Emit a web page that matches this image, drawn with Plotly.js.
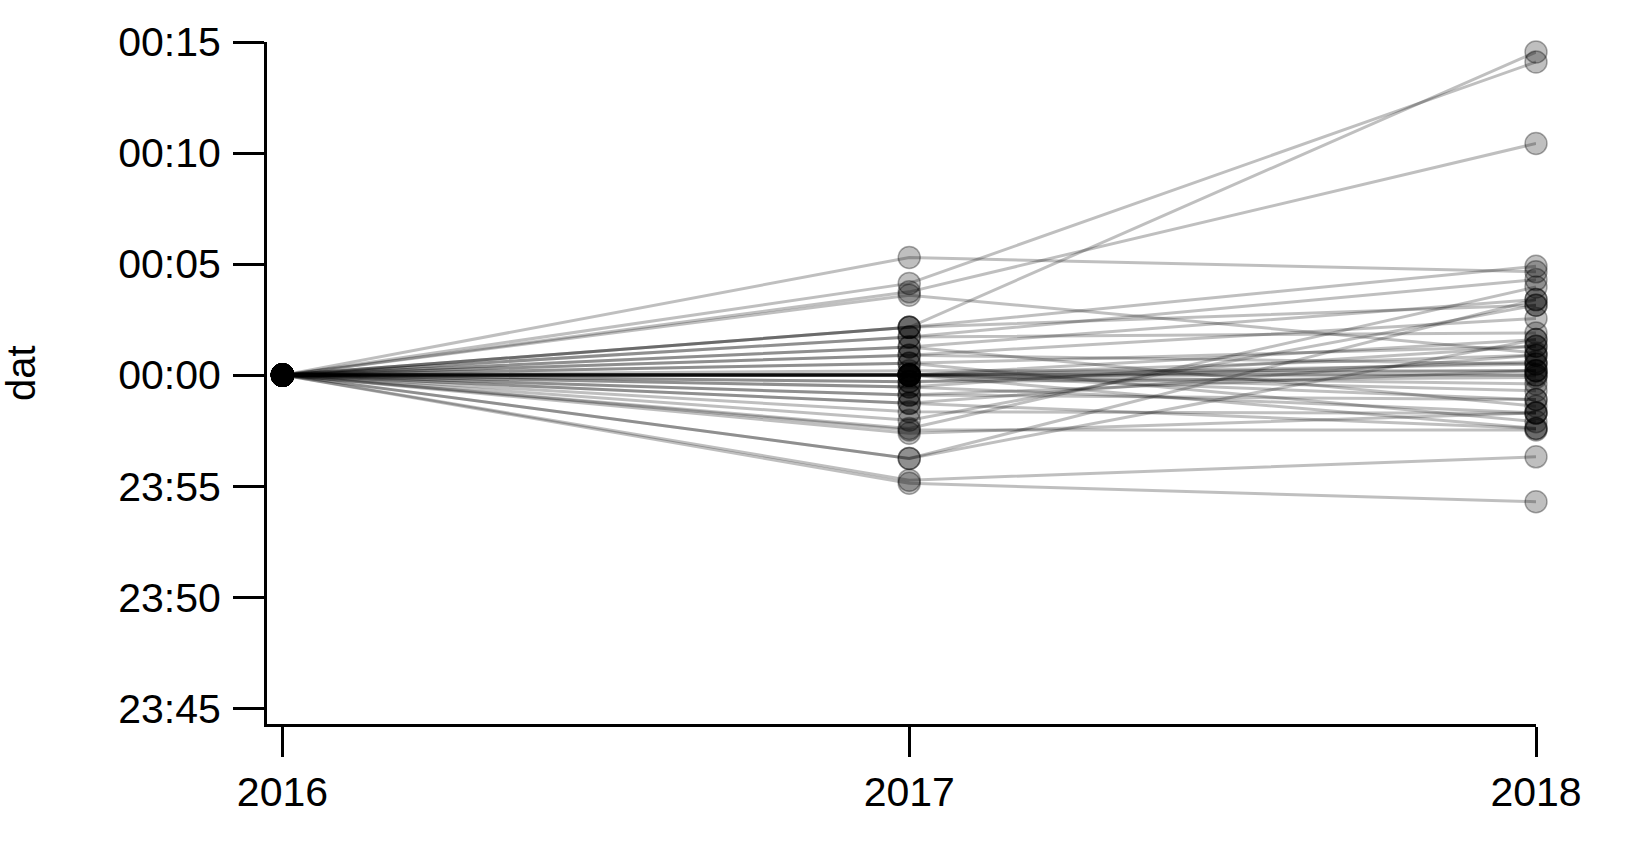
<!DOCTYPE html>
<html>
<head>
<meta charset="utf-8">
<script src="https://cdn.plot.ly/plotly-3.0.1.min.js"></script>
<style>html,body{margin:0;padding:0;background:#fff;}#chart{width:1645px;height:866px;}</style>
</head>
<body>
<div id="chart"></div>
<script>
// years on the x axis
const years = [2016, 2017, 2018];
const yearLabels = ["2016", "2017", "2018"];
// offsets in minutes relative to 00:00 for each series
const val2016 = [0,0,0,0,0,0,0,0,0,0,0,0,0,0,0,0,0,0,0,0,0,0,0,0,0,0,0,0,0,0,0,0,0,0,0,0,0,0,0,0,0,0,0];
const val2017 = [5.3, 4.13, 3.75, 3.6, 2.15, 2.15, 2.15, 1.72, 1.72, 1.27, 1.27, 0.9, 0.9, 0.53, 0.53, 0.2,
  0, 0, 0, 0, 0, 0, 0, 0, 0, 0,
  -0.3, -0.3, -0.53, -0.53, -0.9, -0.9, -1.27, -1.27, -1.65, -2.03, -2.47, -2.4, -2.62, -3.75, -3.75, -4.73, -4.87];
const val2018 = [4.65, 14.1, 10.43, 1.0, 14.55, 4.9, 3.15, 4.3, 1.9, 3.4, -1.4, 2.55, 0.5, 1.3, -2.1, 0.2,
  0.0, 0.2, -0.4, 0.9, -0.7, 1.6, -1.1, 0.5, -2.4, 0.0,
  -0.1, 0.6, -1.7, 1.3, 0.2, -1.1, -2.4, 0.9, -1.72, 3.15, -2.47, 3.97, -1.7, 3.4, 1.6, -3.68, -5.7];
// y tick labels
const yTickVals = [-15, -10, -5, 0, 5, 10, 15];
const yTickText = ["23:45", "23:50", "23:55", "00:00", "00:05", "00:10", "00:15"];
const yTitle = "dat";

const traces = val2017.map((v, i) => ({
  type: 'scatter',
  mode: 'lines+markers',
  x: years,
  y: [val2016[i], v, val2018[i]],
  line: {color: 'rgba(0,0,0,0.25)', width: 3},
  marker: {size: 22, color: 'rgba(0,0,0,0.25)', line: {color: 'rgba(0,0,0,0.32)', width: 1.5}},
  cliponaxis: false,
  hoverinfo: 'skip',
  showlegend: false
}));

const font = {family: 'Liberation Sans, Arial, Helvetica, sans-serif', size: 41, color: '#000'};

const layout = {
  width: 1645, height: 866,
  margin: {l: 267, r: 109, t: 42, b: 142, pad: 0},
  paper_bgcolor: '#fff', plot_bgcolor: '#fff',
  font: font,
  showlegend: false,
  xaxis: {
    range: [2015.9753, 2018],
    tickvals: years, ticktext: yearLabels,
    showline: true, linecolor: '#000', linewidth: 3,
    ticks: 'outside', ticklen: 30, tickwidth: 3, tickcolor: '#000',
    showgrid: false, zeroline: false,
    ticklabelstandoff: 0,
    tickfont: font
  },
  yaxis: {
    range: [-15.71, 15],
    tickvals: yTickVals, ticktext: yTickText,
    showline: true, linecolor: '#000', linewidth: 3,
    ticks: 'outside', ticklen: 31, tickwidth: 3, tickcolor: '#000',
    showgrid: false, zeroline: false,
    ticklabelstandoff: 4,
    tickfont: font
  },
  annotations: [{
    text: yTitle, textangle: -90, showarrow: false,
    xref: 'paper', x: (21 - 267) / 1269, xanchor: 'center',
    yref: 'y', y: 0.1, yanchor: 'middle',
    font: {family: font.family, size: 40, color: '#000'}
  }]
};

Plotly.newPlot('chart', traces, layout, {displayModeBar: false, staticPlot: true});
</script>
</body>
</html>
